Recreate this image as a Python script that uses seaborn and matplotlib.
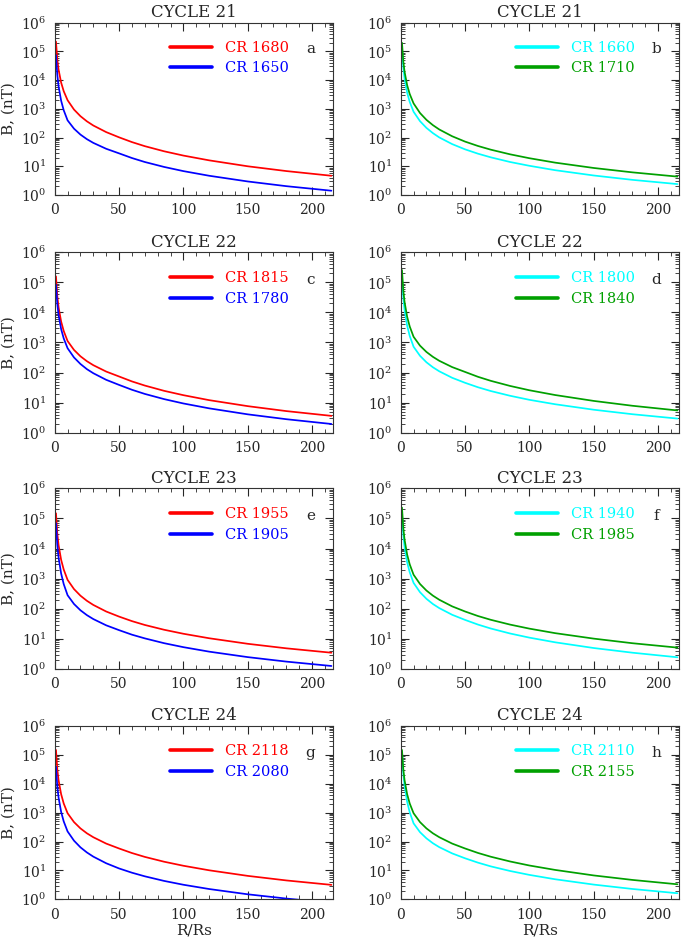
import matplotlib
matplotlib.use("Agg")
import matplotlib.pyplot as plt
import matplotlib.ticker as mticker
import numpy as np
import pandas as pd
import seaborn as sns

r_rs = [1, 2, 3, 5, 7, 10, 15, 20, 25, 30, 40, 50, 60, 70, 85, 100, 120, 150, 180, 215]

# B (nT) per Carrington rotation
b_cr1680 = [2.19e5, 5.32e4, 2.33e4, 8.2e3, 4.13e3, 2.0e3, 944, 556, 368, 263, 155, 102, 69.6, 50.2, 33.3, 23.6, 16.1, 10.0, 6.81, 4.68]
b_cr1650 = [7.41e4, 1.54e4, 6.12e3, 1.92e3, 895, 398, 204, 127, 88.1, 65.3, 40.7, 28.2, 19.4, 14.1, 9.49, 6.79, 4.68, 2.96, 2.03, 1.41]
b_cr1660 = [1.29e5, 2.79e4, 1.14e4, 3.67e3, 1.75e3, 794, 372, 217, 143, 101, 59.2, 38.9, 27.5, 20.5, 14.1, 10.4, 7.31, 4.78, 3.37, 2.40]
b_cr1710 = [2.0e5, 4.62e4, 1.97e4, 6.68e3, 3.29e3, 1.55e3, 716, 414, 271, 191, 111, 72.4, 51.0, 37.9, 26.1, 19.1, 13.4, 8.73, 6.15, 4.37]
b_cr1815 = [1.58e5, 3.57e4, 1.49e4, 4.98e3, 2.42e3, 1.12e3, 566, 348, 239, 176, 108, 74.1, 50.8, 37.0, 24.7, 17.7, 12.1, 7.64, 5.23, 3.63]
b_cr1780 = [8.32e4, 1.93e4, 8.2e3, 2.79e3, 1.37e3, 646, 318, 193, 130, 95.1, 57.4, 38.9, 26.8, 19.5, 13.1, 9.38, 6.46, 4.08, 2.81, 1.95]
b_cr1800 = [1.55e5, 3.08e4, 1.2e4, 3.64e3, 1.66e3, 724, 361, 220, 150, 110, 67.0, 45.7, 32.5, 24.3, 16.9, 12.4, 8.84, 5.81, 4.12, 2.95]
b_cr1840 = [2.57e5, 5.52e4, 2.24e4, 7.21e3, 3.42e3, 1.55e3, 785, 485, 334, 246, 152, 105, 72.4, 53.1, 35.9, 25.8, 17.9, 11.4, 7.87, 5.50]
b_cr1955 = [1.48e5, 3.2e4, 1.31e4, 4.22e3, 2.01e3, 912, 450, 272, 184, 134, 81.1, 55.0, 38.9, 29.0, 20.1, 14.8, 10.5, 6.87, 4.86, 3.47]
b_cr1905 = [6.92e4, 1.32e4, 5.01e3, 1.48e3, 661, 282, 144, 89.1, 61.5, 45.5, 28.2, 19.5, 13.8, 10.4, 7.2, 5.31, 3.77, 2.48, 1.76, 1.26]
b_cr1940 = [1.35e5, 2.8e4, 1.11e4, 3.49e3, 1.63e3, 724, 355, 214, 144, 105, 63.1, 42.7, 29.9, 22.1, 15.1, 11.0, 7.70, 4.97, 3.48, 2.45]
b_cr1985 = [2.29e5, 4.89e4, 1.98e4, 6.32e3, 2.99e3, 1.35e3, 665, 403, 273, 199, 120, 81.3, 57.5, 43.0, 29.8, 21.9, 15.5, 10.2, 7.18, 5.13]
b_cr2118 = [1.48e5, 3.24e4, 1.33e4, 4.36e3, 2.08e3, 955, 471, 285, 193, 141, 84.9, 57.5, 40.0, 29.4, 20.0, 14.5, 10.1, 6.47, 4.50, 3.16]
b_cr2080 = [3.89e4, 8.24e3, 3.32e3, 1.06e3, 498, 224, 107, 63.0, 41.9, 30.0, 17.7, 11.7, 8.34, 6.25, 4.33, 3.19, 2.27, 1.49, 1.06, 0.76]
b_cr2110 = [1.29e5, 2.31e4, 8.45e3, 2.38e3, 1.03e3, 427, 211, 129, 87.4, 63.8, 38.8, 26.3, 18.6, 13.8, 9.55, 7.0, 4.94, 3.23, 2.28, 1.62]
b_cr2155 = [1.48e5, 3.24e4, 1.33e4, 4.36e3, 2.08e3, 955, 471, 285, 193, 141, 84.9, 57.5, 40.3, 29.8, 20.4, 14.8, 10.4, 6.70, 4.69, 3.31]

RED, BLUE, CYAN, GREEN = "#ff0000", "#0000ff", "#00ffff", "#00a000"

# (title, letter, [(label, values, colour), ...])
panels = [
    ("CYCLE 21", "a", [("CR 1680", b_cr1680, RED), ("CR 1650", b_cr1650, BLUE)]),
    ("CYCLE 21", "b", [("CR 1660", b_cr1660, CYAN), ("CR 1710", b_cr1710, GREEN)]),
    ("CYCLE 22", "c", [("CR 1815", b_cr1815, RED), ("CR 1780", b_cr1780, BLUE)]),
    ("CYCLE 22", "d", [("CR 1800", b_cr1800, CYAN), ("CR 1840", b_cr1840, GREEN)]),
    ("CYCLE 23", "e", [("CR 1955", b_cr1955, RED), ("CR 1905", b_cr1905, BLUE)]),
    ("CYCLE 23", "f", [("CR 1940", b_cr1940, CYAN), ("CR 1985", b_cr1985, GREEN)]),
    ("CYCLE 24", "g", [("CR 2118", b_cr2118, RED), ("CR 2080", b_cr2080, BLUE)]),
    ("CYCLE 24", "h", [("CR 2110", b_cr2110, CYAN), ("CR 2155", b_cr2155, GREEN)]),
]

sns.set_style("ticks")
plt.rcParams["font.family"] = ["DejaVu Serif"]
plt.rcParams["mathtext.fontset"] = "dejavuserif"

fig = plt.figure(figsize=(6.85, 9.42), dpi=100)

# axes boxes in pixels: (top, bottom) per row, left edge per column
rows = [(22.7, 195.0), (252.3, 432.7), (488.3, 669.0), (726.0, 899.3)]
cols = [54.7, 400.7]
ax_w = 278.0
W, H = 685.0, 942.0

for i, (title, letter, series) in enumerate(panels):
    row, col = divmod(i, 2)
    top, bot = rows[row]
    ax = fig.add_axes([cols[col] / W, 1 - bot / H, ax_w / W, (bot - top) / H])

    df = pd.concat([pd.DataFrame({"R": r_rs, "B": vals, "CR": lab}) for lab, vals, _ in series])
    pal = {lab: c for lab, _, c in series}
    sns.lineplot(data=df, x="R", y="B", hue="CR", hue_order=list(pal), palette=pal,
                 linewidth=1.25, ax=ax)

    ax.set_yscale("log")
    ax.set_xlim(0, 216)
    ax.set_ylim(1, 1e6)
    ax.xaxis.set_major_locator(mticker.MultipleLocator(50))
    ax.xaxis.set_minor_locator(mticker.MultipleLocator(10))
    ax.yaxis.set_major_locator(mticker.LogLocator(base=10, numticks=10))
    ax.yaxis.set_minor_locator(mticker.LogLocator(base=10, subs=np.arange(2, 10), numticks=10))
    ax.yaxis.set_minor_formatter(mticker.NullFormatter())
    ax.tick_params(which="both", direction="in", top=True, right=True, labelsize=10, pad=6)
    ax.tick_params(which="major", length=6, width=0.8)
    ax.tick_params(which="minor", length=3, width=0.6)
    for s in ax.spines.values():
        s.set_linewidth(0.8)
        s.set_color("#333333")

    ax.set_title(title, fontsize=12, pad=4)
    ax.set_xlabel("R/Rs" if row == 3 else "", fontsize=11, labelpad=1)
    ax.set_ylabel("B, (nT)" if col == 0 else "", fontsize=11, labelpad=4)

    leg = ax.legend(loc="upper left", bbox_to_anchor=(0.415, 0.895), frameon=False,
                    fontsize=10.5, handlelength=2.9, handletextpad=0.9, labelspacing=0.45,
                    borderpad=0, borderaxespad=0, labelcolor="linecolor")
    for ln in leg.get_lines():
        ln.set_linewidth(2.6)
    ax.text(0.92, 0.845, letter, transform=ax.transAxes, ha="center", va="center", fontsize=11)

fig.savefig("out.png", dpi=100)
